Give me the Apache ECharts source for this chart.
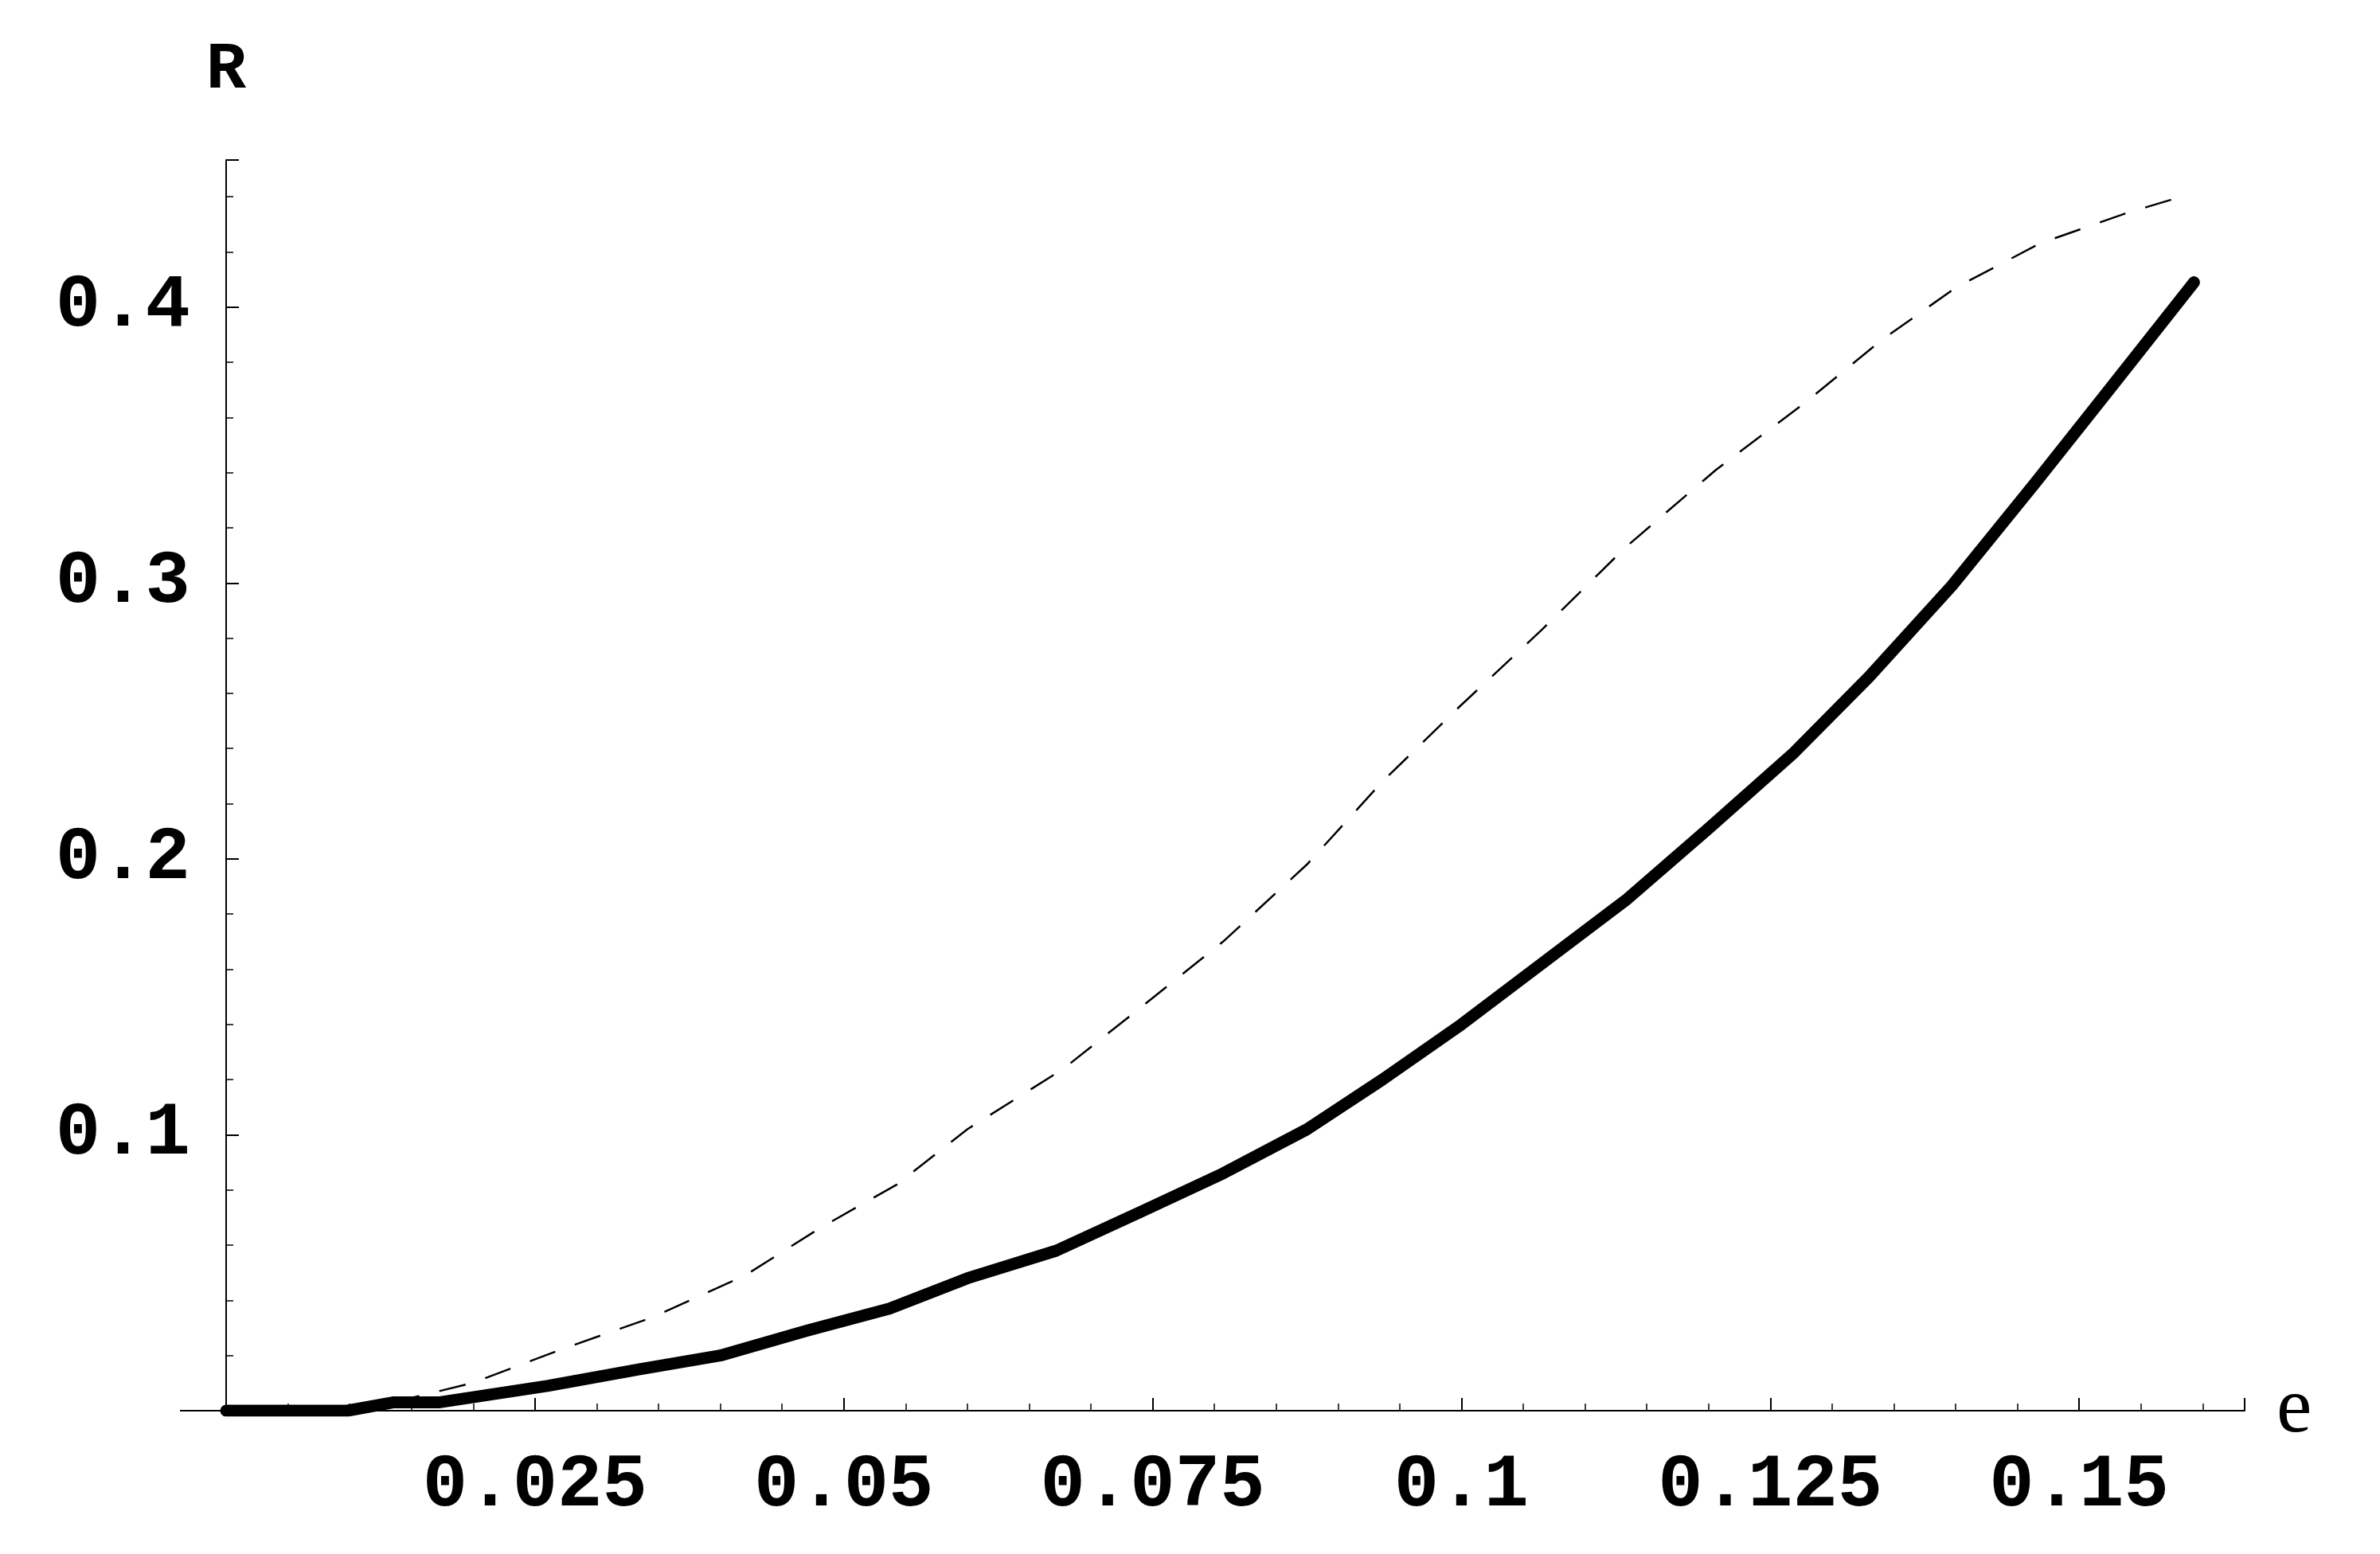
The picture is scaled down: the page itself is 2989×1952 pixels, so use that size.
<!DOCTYPE html>
<html>
<head>
<meta charset="utf-8">
<script src="https://cdn.jsdelivr.net/npm/echarts@6/dist/echarts.min.js"></script>
<style>html,body{margin:0;padding:0;background:#fff}#c{width:2989px;height:1952px}</style>
</head>
<body>
<div id="c"></div>
<script>
// 粗实线
var solidE = [0, 0.0098, 0.0135, 0.0172, 0.026, 0.0334, 0.040, 0.047, 0.0537, 0.060, 0.0672, 0.074, 0.0807, 0.0875, 0.0936, 0.1, 0.1065, 0.1133, 0.120, 0.1268, 0.133, 0.1397, 0.1464, 0.1526, 0.1593]
var solidR = [0, 0, 0.003, 0.003, 0.009, 0.015, 0.020, 0.029, 0.037, 0.048, 0.058, 0.072, 0.086, 0.102, 0.120, 0.140, 0.162, 0.185, 0.211, 0.238, 0.266, 0.299, 0.336, 0.371, 0.409]
// 虚线
var dashE = [0.0135, 0.0199, 0.027, 0.0346, 0.042, 0.048, 0.0543, 0.060, 0.0678, 0.074, 0.0807, 0.0875, 0.0936, 0.0998, 0.1065, 0.1133, 0.1206, 0.128, 0.134, 0.140, 0.1468, 0.1538, 0.159]
var dashR = [0.003, 0.010, 0.022, 0.034, 0.049, 0.066, 0.082, 0.102, 0.124, 0.146, 0.170, 0.198, 0.228, 0.255, 0.283, 0.313, 0.341, 0.366, 0.388, 0.407, 0.423, 0.434, 0.441]
var xTicks = ['0.025', '0.05', '0.075', '0.1', '0.125', '0.15']
var yTicks = ['0.1', '0.2', '0.3', '0.4']

var zip = (a, b) => a.map((v, i) => [v, b[i]])
var labelFont = {fontFamily: 'Liberation Mono', fontWeight: 'bold', fontSize: 94, color: '#000'}

var myChart = echarts.init(document.getElementById('c'))
var option = {
	animation: false,
	grid: {left: 284, right: 170, top: 201, bottom: 180, containLabel: false},
	xAxis: {
		type: 'value', min: 0, max: 0.1634, interval: 0.025,
		name: 'e', nameLocation: 'end', nameGap: 40,
		nameTextStyle: {fontFamily: 'Liberation Serif', fontSize: 100, color: '#000', verticalAlign: 'middle'},
		axisLine: {onZero: false, lineStyle: {color: '#000', width: 2}},
		axisTick: {inside: true, length: 16, lineStyle: {color: '#000', width: 2}},
		minorTick: {show: true, splitNumber: 5, length: 9, lineStyle: {color: '#000', width: 1.5}},
		splitLine: {show: false},
		axisLabel: Object.assign({margin: 48, formatter: v => {
			var s = xTicks.find(t => Math.abs(parseFloat(t) - v) < 1e-9); return s || ''
		}}, labelFont)
	},
	yAxis: {
		type: 'value', min: 0, max: 0.4533, interval: 0.1,
		name: 'R', nameLocation: 'end', nameGap: 70,
		nameTextStyle: Object.assign({align: 'center'}, labelFont, {fontSize: 84}),
		axisLine: {lineStyle: {color: '#000', width: 2}},
		axisTick: {inside: true, length: 16, lineStyle: {color: '#000', width: 2}},
		minorTick: {show: true, splitNumber: 5, length: 9, lineStyle: {color: '#000', width: 1.5}},
		splitLine: {show: false},
		axisLabel: Object.assign({margin: 45, formatter: v => {
			var s = yTicks.find(t => Math.abs(parseFloat(t) - v) < 1e-9); return s || ''
		}}, labelFont)
	},
	graphic: [{ // x轴向左延伸一点
		type: 'line', shape: {x1: 226, y1: 1772, x2: 284, y2: 1772}, style: {stroke: '#000', lineWidth: 2}
	}],
	series: [{
		type: 'line', data: zip(dashE, dashR), showSymbol: false,
		lineStyle: {color: '#000', width: 2.5, type: [34, 26]}
	}, {
		type: 'line', data: zip(solidE, solidR), showSymbol: false,
		lineStyle: {color: '#000', width: 15, cap: 'round', join: 'round'}
	}]
}
myChart.setOption(option)
</script>
</body>
</html>
